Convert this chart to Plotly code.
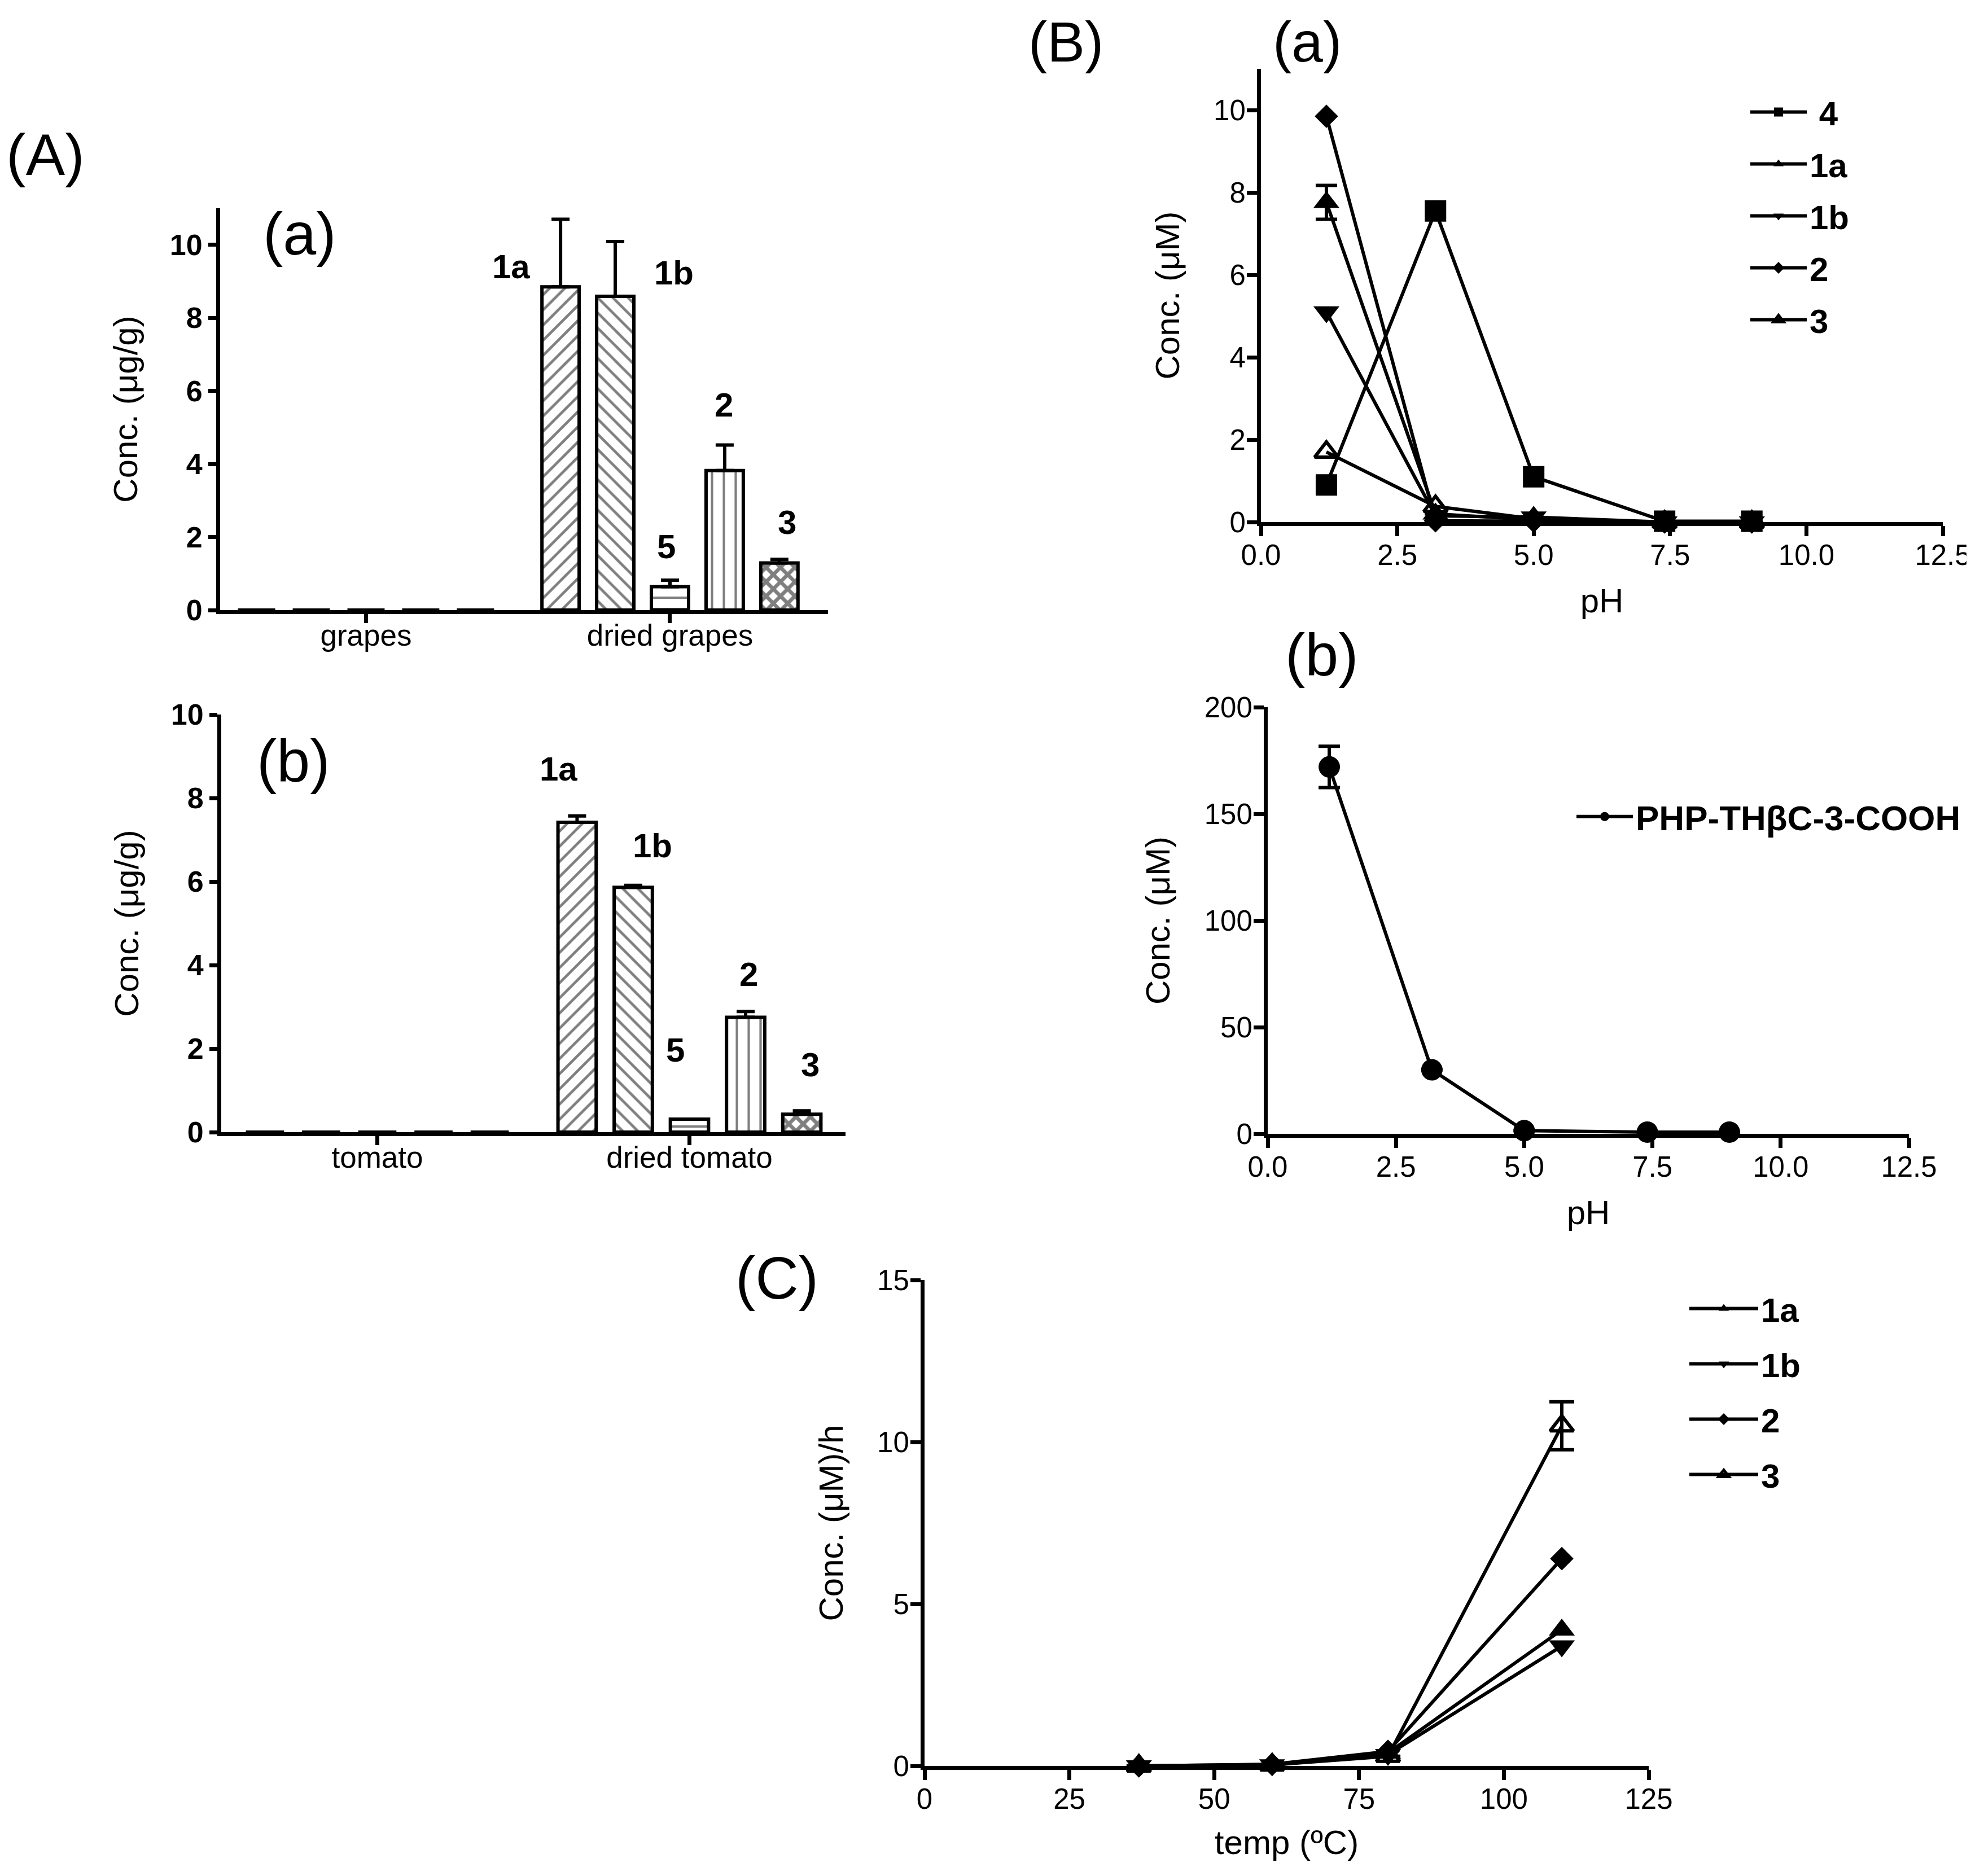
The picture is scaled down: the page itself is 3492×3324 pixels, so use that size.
import plotly.graph_objects as go

W, H = 3492, 3324
FONT = "Liberation Sans, Arial, sans-serif"

# ---- (A) bar data -------------------------------------------------------
compounds = ["1a", "1b", "5", "2", "3"]
grape_cats = ["grapes", "dried grapes"]
grape_fresh = [0, 0, 0, 0, 0]
grape_dried = [8.85, 8.59, 0.64, 3.82, 1.29]
grape_dried_err = [1.85, 1.50, 0.18, 0.70, 0.10]

tomato_cats = ["tomato", "dried tomato"]
tomato_fresh = [0, 0, 0, 0, 0]
tomato_dried = [7.42, 5.86, 0.31, 2.75, 0.43]
tomato_dried_err = [0.15, 0.05, 0.0, 0.14, 0.08]

# ---- (B) pH data --------------------------------------------------------
ph = [1.2, 3.2, 5.0, 7.4, 9.0]
ph_4 = [0.9, 7.55, 1.1, 0.02, 0.02]
ph_1a = [7.76, 0.2, 0.05, 0.0, 0.0]
ph_1a_err = [0.41, 0, 0, 0, 0]
ph_1b = [5.1, 0.15, 0.12, 0.0, 0.0]
ph_2 = [9.85, 0.03, 0.02, 0.0, 0.0]
ph_3 = [1.7, 0.38, 0.08, 0.0, 0.0]
ph_acid = [172, 30, 1.5, 0.8, 0.8]
ph_acid_err = [9.7, 0, 0, 0, 0]

# ---- (C) temperature data ----------------------------------------------
temp = [37, 60, 80, 110]
t_1a = [0.0, 0.05, 0.40, 4.2]
t_1b = [0.0, 0.03, 0.35, 3.7]
t_2 = [0.0, 0.05, 0.45, 6.4]
t_3 = [0.0, 0.03, 0.30, 10.5]
t_3_err = [0, 0, 0, 0.74]


def dom_x(x0, x1):
    return [x0 / W, x1 / W]


def dom_y(top, bottom):
    return [1 - bottom / H, 1 - top / H]


patterns = {"1a": "/", "1b": "\\", "5": "-", "2": "|", "3": "x"}
pattern_size = {"1a": 19, "1b": 19, "5": 20, "2": 21, "3": 18}
pattern_solid = {"1a": 0.25, "1b": 0.25, "5": 0.2, "2": 0.2, "3": 0.6}

fig = go.Figure()

for cats, fresh, dried, err, ax in [
    (grape_cats, grape_fresh, grape_dried, grape_dried_err, ("x", "y")),
    (tomato_cats, tomato_fresh, tomato_dried, tomato_dried_err, ("x2", "y2")),
]:
    for i, c in enumerate(compounds):
        fig.add_trace(go.Bar(
            x=cats, y=[fresh[i], dried[i]], name=c, showlegend=False,
            xaxis=ax[0], yaxis=ax[1],
            marker=dict(color="white", line=dict(color="black", width=6),
                        pattern=dict(shape=patterns[c], size=pattern_size[c],
                                     solidity=pattern_solid[c], fgcolor="black",
                                     bgcolor="white")),
            error_y=dict(type="data", symmetric=False, array=[0, err[i]],
                         arrayminus=[0, 0], color="black", thickness=6, width=16),
        ))

line = dict(color="black", width=6)


def series(x, y, name, symbol, ax, legend, rank, size=40, err=None, cap=19):
    mk = dict(symbol=symbol, size=size, color="black")
    if symbol.endswith("open"):
        mk["line"] = dict(color="black", width=6)
    tr = go.Scatter(x=x, y=y, name=name, mode="lines+markers", line=line,
                    marker=mk, xaxis=ax[0], yaxis=ax[1], legend=legend,
                    legendgroup=legend + name, legendrank=rank, cliponaxis=False)
    if err is not None:
        tr.error_y = dict(type="data", array=err, color="black", thickness=6, width=cap)
    return tr


fig.add_trace(series(ph, ph_4, " 4", "square", ("x3", "y3"), "legend", 1, size=38))
fig.add_trace(series(ph, ph_1a, "1a", "triangle-up", ("x3", "y3"), "legend", 2, err=ph_1a_err))
fig.add_trace(series(ph, ph_1b, "1b", "triangle-down", ("x3", "y3"), "legend", 3))
fig.add_trace(series(ph, ph_2, "2", "diamond", ("x3", "y3"), "legend", 4, size=32))
fig.add_trace(series(ph, ph_3, "3", "triangle-up-open", ("x3", "y3"), "legend", 5, size=36))

fig.add_trace(series(ph, ph_acid, "PHP-THβC-3-COOH", "circle", ("x4", "y4"), "legend2", 1,
                     size=38, err=ph_acid_err))

# drawn back to front so that 1a / 1b sit on top at the baseline
fig.add_trace(series(temp, t_3, "3", "triangle-up-open", ("x5", "y5"), "legend3", 4,
                     size=36, err=t_3_err, cap=22))
fig.add_trace(series(temp, t_2, "2", "diamond", ("x5", "y5"), "legend3", 3, size=32))
fig.add_trace(series(temp, t_1b, "1b", "triangle-down", ("x5", "y5"), "legend3", 2))
fig.add_trace(series(temp, t_1a, "1a", "triangle-up", ("x5", "y5"), "legend3", 1))

ax_base = dict(showline=True, linecolor="black", linewidth=7, ticks="outside",
               tickcolor="black", tickwidth=7, ticklen=18, showgrid=False,
               zeroline=False, automargin=False)
tick_bold = dict(family=FONT, size=52, color="black", weight="bold")
tick_reg = dict(family=FONT, size=51, color="black")
title_font = dict(family=FONT, size=60, color="black")
cat_font = dict(family=FONT, size=53, color="black")
legend_font = dict(family=FONT, size=60, color="black", weight="bold")

x_ph = dict(range=[0, 12.5], tick0=0, dtick=2.5, tickformat=".1f", tickfont=tick_reg,
            ticklabelstandoff=-10, title=dict(text="pH", font=title_font, standoff=34))
y_num = dict(tickfont=tick_reg, ticklabelstandoff=-8)

fig.update_layout(
    width=W, height=H, margin=dict(l=0, r=0, t=0, b=0),
    paper_bgcolor="white", plot_bgcolor="white",
    barmode="group", bargap=0.1, bargroupgap=0.32,
    xaxis=dict(ax_base, domain=dom_x(382, 1459), anchor="y", tickfont=cat_font,
               range=[-0.48, 1.52], ticklen=16, ticklabelstandoff=-24),
    yaxis=dict(ax_base, domain=dom_y(361, 1073), anchor="x", range=[0, 11],
               tickvals=[0, 2, 4, 6, 8, 10], tickfont=tick_bold, ticklen=14,
               title=dict(text="Conc. (μg/g)", font=title_font, standoff=40)),
    xaxis2=dict(ax_base, domain=dom_x(384, 1490), anchor="y2", tickfont=cat_font,
                ticklen=16, ticklabelstandoff=-24),
    yaxis2=dict(ax_base, domain=dom_y(1258, 1998), anchor="x2", range=[0, 10],
                tickvals=[0, 2, 4, 6, 8, 10], tickfont=tick_bold, ticklen=14,
                title=dict(text="Conc. (μg/g)", font=title_font, standoff=40)),
    xaxis3=dict(ax_base, domain=dom_x(2226, 3434), anchor="y3", **x_ph),
    yaxis3=dict(ax_base, domain=dom_y(114, 917), anchor="x3", range=[0, 11],
                tickvals=[0, 2, 4, 6, 8, 10], **y_num,
                title=dict(text="Conc. (μM)", font=title_font, standoff=44)),
    xaxis4=dict(ax_base, domain=dom_x(2238, 3374), anchor="y4", **x_ph),
    yaxis4=dict(ax_base, domain=dom_y(1245, 2001), anchor="x4", range=[0, 200],
                tickvals=[0, 50, 100, 150, 200], **y_num,
                title=dict(text="Conc. (μM)", font=title_font, standoff=44)),
    xaxis5=dict(ax_base, domain=dom_x(1630, 2913), anchor="y5", range=[0, 125],
                tick0=0, dtick=25, tickfont=tick_reg, ticklabelstandoff=-10,
                title=dict(text="temp (ºC)", font=title_font, standoff=30)),
    yaxis5=dict(ax_base, domain=dom_y(2260, 3121), anchor="x5", range=[0, 15],
                tickvals=[0, 5, 10, 15], **y_num,
                title=dict(text="Conc. (μM)/h", font=title_font, standoff=44)),
    legend=dict(x=3088 / W, y=1 - 145 / H, xanchor="left", yanchor="top",
                font=legend_font, itemwidth=100, traceorder="grouped",
                tracegroupgap=11, bgcolor="rgba(0,0,0,0)"),
    legend2=dict(x=2780 / W, y=1 - 1392 / H, xanchor="left", yanchor="top",
                 font=dict(legend_font, size=62), itemwidth=100,
                 bgcolor="rgba(0,0,0,0)"),
    legend3=dict(x=2980 / W, y=1 - 2265 / H, xanchor="left", yanchor="top",
                 font=legend_font, itemwidth=122, traceorder="grouped",
                 tracegroupgap=17, bgcolor="rgba(0,0,0,0)"),
)


def label(text, x, y, size, bold=False):
    fig.add_annotation(text=text, x=x / W, y=1 - y / H, xref="paper", yref="paper",
                       showarrow=False, xanchor="center", yanchor="middle",
                       font=dict(family=FONT, size=size, color="black",
                                 weight="bold" if bold else "normal"))


# panel letters
label("(A)", 72, 266, 104)
label("(a)", 523, 406, 106)
label("(b)", 512, 1340, 106)
label("(B)", 1880, 66, 100)
label("(a)", 2308, 66, 100)
label("(b)", 2334, 1152, 106)
label("(C)", 1368, 2256, 106)

# compound labels next to the bars
for txt, x, y in [("1a", 898, 465), ("1b", 1186, 476), ("5", 1172, 960),
                  ("2", 1274, 709), ("3", 1386, 917)]:
    label(txt, x, y, 60, bold=True)
for txt, x, y in [("1a", 981, 1354), ("1b", 1148, 1490), ("5", 1188, 1852),
                  ("2", 1318, 1718), ("3", 1427, 1878)]:
    label(txt, x, y, 60, bold=True)

fig.write_html("out.html")
